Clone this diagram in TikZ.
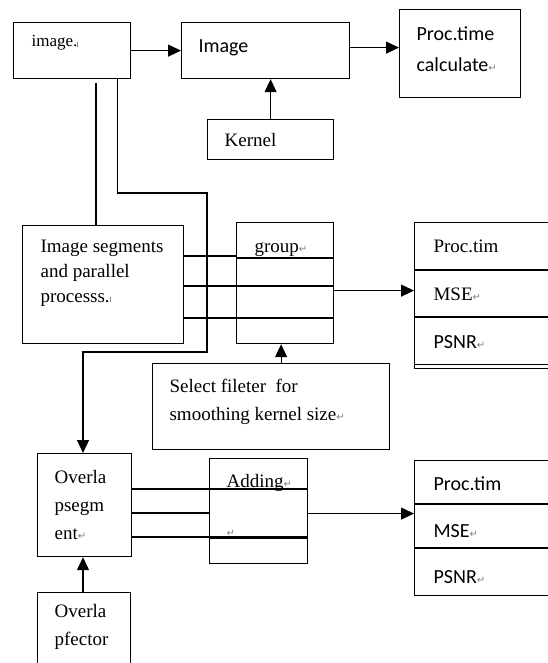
\documentclass[tikz,border=0pt]{standalone}
\usepackage{fontspec}
\setmainfont{Liberation Serif}
\newfontfamily\calfont{Carlito}
\newfontfamily\symfont{DejaVu Sans}
\usetikzlibrary{arrows.meta,positioning}
% paragraph marks
\newcommand{\pmark}{{\symfont\fontsize{10}{10}\selectfont\color{gray}↵}}
\newcommand{\stopmark}{{\color{gray}\rule{0.8pt}{5pt}}}

\begin{document}
\begin{tikzpicture}[x=1pt,y=-1pt,>={Triangle[length=13pt,width=12pt]},line width=1.2pt]
  \tikzstyle{box}=[draw,anchor=north west,inner sep=0pt]
  \tikzstyle{txt}=[anchor=base west,inner sep=0pt,align=left,font=\fontsize{19}{25}\selectfont]
  \tikzstyle{stxt}=[anchor=base west,inner sep=0pt,align=left,font=\calfont\fontsize{20}{25}\selectfont]
  \useasboundingbox (0,0) rectangle (547,663);

  % top row
  \node[box,minimum width=117,minimum height=56] (img) at (13,22) {};
  \node[box,minimum width=168,minimum height=56] (imgb) at (181,22) {};
  \node[box,minimum width=121,minimum height=88] (proc) at (399,9) {};
  \node[box,minimum width=126,minimum height=40] (kern) at (207,119) {};
  \node[txt,font=\fontsize{17}{20}\selectfont] (imgt) at (31,47) {image.\stopmark};
  \node[stxt] (imgbt) at (198,53) {Image};
  \node[stxt,font=\calfont\fontsize{20}{31}\selectfont] (proct) at (416,72) {Proc.time\\calculate\pmark};
  \node[txt] (kernt) at (224,147) {Kernel};

  % middle row
  \node[box,minimum width=161,minimum height=118] (segs) at (22,225) {};
  \node[box,minimum width=97,minimum height=121] (grp) at (236,222) {};
  \node[box,minimum width=150,minimum height=146] (proca) at (414,222) {};
  \node[box,minimum width=237,minimum height=86] (sel) at (152,363) {};
  \node[txt] (segst) at (40,302) {Image segments\\and parallel\\processs.\stopmark};
  \node[txt] (grpt) at (254,252) {group\pmark};
  \node[txt] (procat) at (433,252) {Proc.tim};
  \node[txt] (mseat) at (433,300) {MSE\pmark};
  \node[stxt] (psnrat) at (433,348) {PSNR\pmark};
  \node[txt,font=\fontsize{19}{28}\selectfont] (selt) at (169,420) {Select fileter \ for\\smoothing kernel size\pmark};
  \draw ([yshift=-48]proca.north west) -- ([yshift=-48]proca.north east);
  \draw ([yshift=-95]proca.north west) -- ([yshift=-95]proca.north east);
  \draw ([yshift=5]proca.south west) -- ([yshift=5]proca.south east);

  % bottom row
  \node[box,minimum width=94,minimum height=103] (ovl) at (37,453) {};
  \node[box,minimum width=98,minimum height=105] (add) at (209,458) {};
  \node[box,minimum width=150,minimum height=135] (procb) at (414,460) {};
  \node[box,minimum width=93,minimum height=100] (ovf) at (37,592) {};
  \node[txt,font=\fontsize{19}{28}\selectfont] (ovlt) at (54,539) {Overla\\psegm\\ent\pmark};
  \node[txt] (addt) at (226,487) {Adding\pmark};
  \node[txt] (addr) at (226,536) {\pmark};
  \node[stxt] (procbt) at (433,490) {Proc.tim};
  \node[stxt] (msebt) at (433,537) {MSE\pmark};
  \node[stxt] (psnrbt) at (433,583) {PSNR\pmark};
  \node[txt,font=\fontsize{19}{28}\selectfont] (ovft) at (54,645) {Overla\\pfector};
  \draw ([yshift=-80]add.north west) -- ([yshift=-80]add.north east);
  \draw ([yshift=-44]procb.north west) -- ([yshift=-44]procb.north east);
  \draw[line width=2.4pt] ([yshift=-88]procb.north west) -- ([yshift=-88]procb.north east);

  % connectors
  \draw[->] (img) -- (imgb);
  \draw[->] ([yshift=3]imgb.east) -- ([yshift=3]imgb.east -| proc.west);
  \draw[->] (kern.north) -- (kern.north |- imgb.south);
  \coordinate (tapa) at (96,83);
  \draw (tapa) -- (tapa |- segs.north);
  \coordinate (ra) at (207,193);
  \coordinate (rb) at (207,352);
  \draw[->] ([xshift=-14]img.south east) |- (ra) -- (rb) -| ([xshift=46]ovl.north west);
  \draw ([yshift=-31]segs.north east) -- ([yshift=-31]segs.north east -| grp.west);
  \draw ([yshift=-36]grp.north west) -- ([yshift=-36]grp.north east);
  \draw ([yshift=-61]segs.north east) -- ([yshift=-61]segs.north east -| grp.east);
  \draw ([yshift=-93]segs.north east) -- ([yshift=-93]segs.north east -| grp.east);
  \draw[->] ([yshift=-7.5]grp.east) -- ([yshift=-7.5]grp.east -| proca.west);
  \draw[->] ([xshift=10]sel.north) -- ([xshift=10]sel.north |- grp.south);
  \draw ([yshift=-36]ovl.north east) -- ([yshift=-36]ovl.north east -| add.east);
  \draw ([yshift=-60]ovl.north east) -- ([yshift=-60]ovl.north east -| add.west);
  \draw ([yshift=-84]ovl.north east) -- ([yshift=-84]ovl.north east -| add.east);
  \draw[->] ([yshift=-2.5]add.east) -- ([yshift=-2.5]add.east -| procb.west);
  \draw[->] ([xshift=46]ovf.north west) -- ([xshift=46]ovf.north west |- ovl.south);
\end{tikzpicture}
\end{document}
